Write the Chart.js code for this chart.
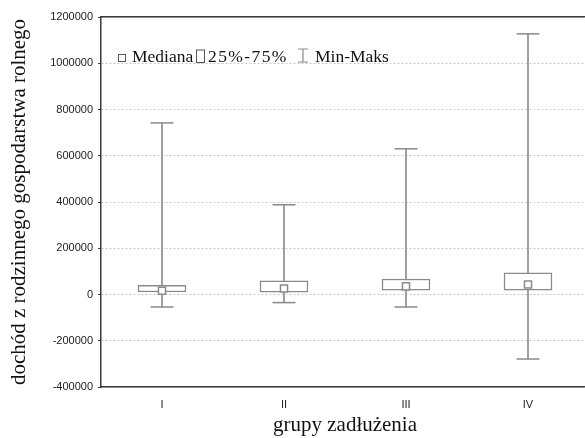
<!DOCTYPE html>
<html>
<head>
<meta charset="utf-8">
<script src="https://cdn.jsdelivr.net/npm/chart.js@4/dist/chart.umd.min.js"></script>
<style>
  html, body { margin: 0; padding: 0; background: #ffffff; overflow: hidden; }
  #wrap { width: 602px; height: 438px; }
</style>
</head>
<body>
<div id="wrap"><canvas id="c" width="602" height="438"></canvas></div>
<script>
// ---- data ----
const categories = ['I', 'II', 'III', 'IV'];
const minimum = [-54000, -35000, -54000, -279000];
const q1 = [11000, 10000, 19000, 19000];
const median = [16000, 26000, 35000, 43000];
const q3 = [40000, 59000, 67000, 94000];
const maximum = [742000, 388000, 630000, 1127000];
const yTickMin = -400000;
const yTickMax = 1200000;
const yTickStep = 200000;
const legendLabels = ['Mediana', '25%-75%', 'Min-Maks'];
const yTitle = 'dochód z rodzinnego gospodarstwa rolnego';
const xTitle = 'grupy zadłużenia';

const GRAY = '#8a8a8a';
const AXIS = '#3a3a3a';

const boxRanges = categories.map((c, i) => [q1[i], q3[i]]);
const stemRanges = categories.map((c, i) => [minimum[i], maximum[i]]);

// legend drawn inside the plot area (top-left), as in the reference
const insideLegend = {
  id: 'insideLegend',
  afterDraw(chart) {
    const ctx = chart.ctx;
    const a = chart.chartArea;
    const x0 = a.left;
    const base = a.top + 45;
    ctx.save();
    ctx.strokeStyle = '#555';
    ctx.lineWidth = 1;
    ctx.strokeRect(x0 + 17.5, base - 7.5, 7, 7);
    ctx.strokeRect(x0 + 95.5, base - 12, 8, 12.5);
    ctx.strokeStyle = GRAY;
    ctx.lineWidth = 1.2;
    ctx.beginPath();
    ctx.moveTo(x0 + 197, base - 13); ctx.lineTo(x0 + 207, base - 13);
    ctx.moveTo(x0 + 202, base - 13); ctx.lineTo(x0 + 202, base);
    ctx.moveTo(x0 + 197, base); ctx.lineTo(x0 + 207, base);
    ctx.stroke();
    ctx.fillStyle = '#111';
    ctx.font = '17.5px "Liberation Serif", "Times New Roman", serif';
    ctx.textBaseline = 'alphabetic';
    ctx.textAlign = 'left';
    ctx.fillText(legendLabels[0], x0 + 31, base);
    if ('letterSpacing' in ctx) ctx.letterSpacing = '1.4px';
    ctx.fillText(legendLabels[1], x0 + 107, base);
    if ('letterSpacing' in ctx) ctx.letterSpacing = '0px';
    ctx.fillText(legendLabels[2], x0 + 214, base);
    ctx.restore();
  }
};

new Chart(document.getElementById('c'), {
  type: 'bar',
  data: {
    labels: categories,
    datasets: [
      {
        type: 'line', label: 'Mediana', data: median, showLine: false,
        pointStyle: 'rect', pointRadius: 5, pointHoverRadius: 5,
        pointBackgroundColor: '#ffffff', pointBorderColor: GRAY, pointBorderWidth: 1.5,
        order: 0
      },
      {
        type: 'line', label: 'Maks', data: maximum, showLine: false,
        pointStyle: 'line', pointRadius: 11.5, pointHoverRadius: 11.5,
        pointBorderColor: GRAY, pointBorderWidth: 1.5, order: 1
      },
      {
        type: 'line', label: 'Min', data: minimum, showLine: false,
        pointStyle: 'line', pointRadius: 11.5, pointHoverRadius: 11.5,
        pointBorderColor: GRAY, pointBorderWidth: 1.5, order: 1
      },
      {
        type: 'bar', label: '25%-75%', data: boxRanges,
        backgroundColor: '#ffffff', borderColor: GRAY, borderWidth: 1.5,
        borderSkipped: false, barThickness: 48, grouped: false, order: 2
      },
      {
        type: 'bar', label: 'Min-Maks', data: stemRanges,
        backgroundColor: '#999999', borderWidth: 0,
        barThickness: 1.2, grouped: false, order: 3
      }
    ]
  },
  options: {
    responsive: false,
    devicePixelRatio: 1,
    animation: false,
    layout: { padding: { top: 17, left: 0, right: 1, bottom: 0 } },
    plugins: {
      legend: { display: false },
      tooltip: { enabled: false },
      title: { display: false }
    },
    scales: {
      x: {
        type: 'category',
        offset: true,
        grid: { display: false },
        border: { display: true, color: AXIS, width: 1.5 },
        ticks: {
          padding: 3,
          color: '#222',
          font: { family: '"Liberation Sans", Arial, sans-serif', size: 11 }
        },
        title: {
          display: true,
          text: xTitle,
          color: '#111',
          padding: { top: 0, bottom: 0 },
          font: { family: '"Liberation Serif", "Times New Roman", serif', size: 21 }
        },
        afterFit(s) { s.height = 51; }
      },
      x2: {
        type: 'category',
        position: 'top',
        labels: categories,
        offset: true,
        grid: { display: false },
        border: { display: true, color: AXIS, width: 1.5 },
        ticks: { display: false },
        afterFit(s) { s.height = 0; }
      },
      y: {
        type: 'linear',
        min: yTickMin,
        max: yTickMax,
        grid: { color: '#c8c8c8', lineWidth: 1, drawTicks: true, tickLength: 3, tickColor: AXIS, tickWidth: 1 },
        border: { display: true, color: AXIS, width: 1.5, dash: [2, 2] },
        ticks: {
          stepSize: yTickStep,
          padding: 5,
          color: '#222',
          font: { family: '"Liberation Sans", Arial, sans-serif', size: 11 },
          callback: (v) => String(v)
        },
        title: {
          display: true,
          text: yTitle,
          color: '#111',
          padding: { top: 7, bottom: 0 },
          font: { family: '"Liberation Serif", "Times New Roman", serif', size: 21 }
        },
        afterFit(s) { s.width = 101; }
      }
    }
  },
  plugins: [insideLegend]
});
</script>
</body>
</html>
